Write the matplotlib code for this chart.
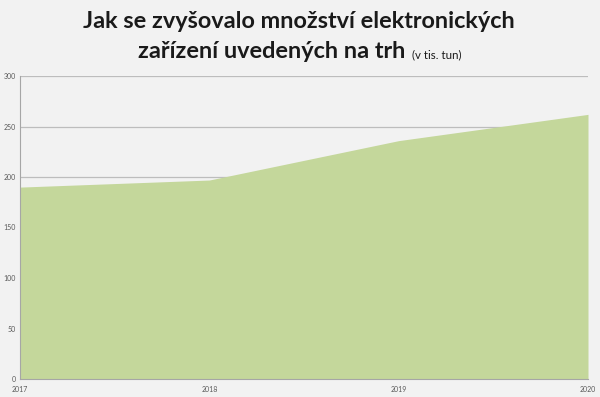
import numpy as np
import matplotlib
matplotlib.use("Agg")
import matplotlib.pyplot as plt

# data (thousand tonnes)
years = [2017, 2018, 2019, 2020]
values = [190, 197, 236, 262]
yticks = [0, 50, 100, 150, 200, 250, 300]

bg = "#f2f2f2"
area_col = "#c4d79b"
grid_col = "#bdbdbd"
tick_col = "#595959"

fig = plt.figure(figsize=(6, 3.97), dpi=100, facecolor=bg)
ax = fig.add_axes([20/600, 1-379/397, 568/600, 303/397], facecolor=bg)

ax.fill_between(years, values, 0, color=area_col, lw=0, zorder=3)
ax.set_xlim(years[0], years[-1])
ax.set_ylim(0, 300)
ax.set_yticks(yticks)
ax.set_xticks(years)
ax.set_xticklabels([str(y) for y in years])
ax.yaxis.grid(True, color=grid_col, lw=0.9, zorder=0)
ax.set_axisbelow(True)
ax.tick_params(length=0, labelsize=5, colors=tick_col)
ax.tick_params(axis="y", pad=3)
ax.tick_params(axis="x", pad=5)
for lab in ax.get_yticklabels():
    lab.set_fontfamily("Lato")
for lab in ax.get_xticklabels():
    lab.set_fontfamily("Lato")
for s in ["top", "right"]:
    ax.spines[s].set_visible(False)
ax.spines["left"].set_color("#a6a6a6")
ax.spines["bottom"].set_color("#a6a6a6")
ax.spines["left"].set_zorder(4)
ax.spines["bottom"].set_zorder(4)

fig.text(299/600, 1-28/397, "Jak se zvyšovalo množství elektronických", ha="center", va="baseline",
         fontsize=16.9, fontweight="bold", family="Lato", color="#1a1a1a")
fig.text(405/600, 1-58/397, "zařízení uvedených na trh", ha="right", va="baseline",
         fontsize=16.9, fontweight="bold", family="Lato", color="#1a1a1a")
fig.text(412/600, 1-58/397, "(v tis. tun)", ha="left", va="baseline",
         fontsize=8.3, family="Lato", color="#1a1a1a")

fig.savefig("out.png", dpi=100, facecolor=bg)
